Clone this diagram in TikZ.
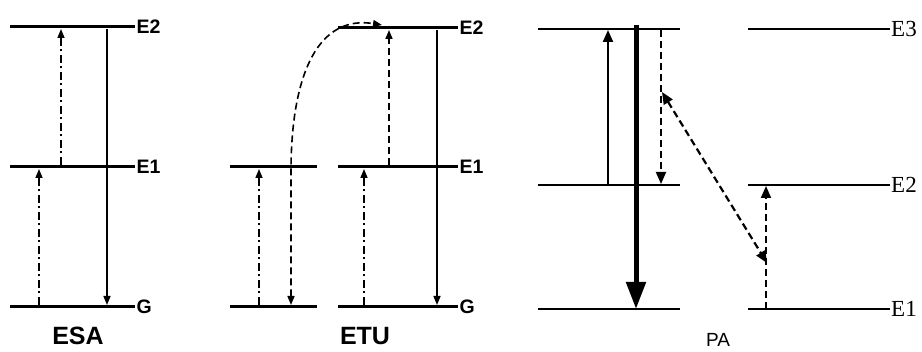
\documentclass[tikz,border=0pt]{standalone}
\usepackage{fontspec}
\newfontfamily\arialf{Liberation Sans}
\newfontfamily\tnrf{Liberation Serif}
\usetikzlibrary{arrows.meta}
\tikzset{
  lvlthick/.style={line width=3pt},
  lvlthin/.style={line width=1.6pt},
  dashdot/.style={line width=1.5pt, dash pattern=on 8pt off 3.5pt on 2pt off 3.5pt},
  dsh/.style={line width=1.8pt, dash pattern=on 7pt off 4pt},
  tipS/.style={-{Triangle[length=9pt,width=7pt]}},
  tipM/.style={-{Triangle[length=12pt,width=10pt]}},
  lblbold/.style={font=\arialf\bfseries\fontsize{19.5}{19.5}\selectfont, anchor=west, inner sep=1.5pt},
  lblserif/.style={font=\tnrf\fontsize{23}{23}\selectfont, anchor=west, inner sep=1pt},
  ttlbold/.style={font=\arialf\bfseries\fontsize{25}{25}\selectfont},
}
\begin{document}
\begin{tikzpicture}[x=1pt,y=-1pt]
\useasboundingbox (0,0) rectangle (922,352);
% ---------------- ESA ----------------
\coordinate (aE2l) at (10,27);  \coordinate (aE2r) at (135,27);
\coordinate (aE1l) at (10,167); \coordinate (aE1r) at (135,167);
\coordinate (aGl) at (10,307);  \coordinate (aGr) at (135,307);
\draw[lvlthick] (aE2l) -- (aE2r);
\draw[lvlthick] (aE1l) -- (aE1r);
\draw[lvlthick] (aGl) -- (aGr);
\node[lblbold] (aLE2) at (aE2r) {E2};
\node[lblbold] (aLE1) at (aE1r) {E1};
\node[lblbold] (aLG) at (aGr) {G};
\node[ttlbold] (esa) at (78,336) {ESA};
\coordinate (a1s) at (39,305); \coordinate (a1e) at (39,169);
\coordinate (a2s) at (61,165); \coordinate (a2e) at (61,29);
\coordinate (a3s) at (107,29); \coordinate (a3e) at (107,305);
\draw[dashdot,tipS] (a1s) -- (a1e);
\draw[dashdot,tipS] (a2s) -- (a2e);
\draw[line width=1.5pt,tipS] (a3s) -- (a3e);
% ---------------- ETU ----------------
\coordinate (bE1l) at (230,167); \coordinate (bE1r) at (317,167);
\coordinate (bGl) at (230,307);  \coordinate (bGr) at (317,307);
\coordinate (cE2l) at (338,28);  \coordinate (cE2r) at (458,28);
\coordinate (cE1l) at (338,167); \coordinate (cE1r) at (458,167);
\coordinate (cGl) at (338,307);  \coordinate (cGr) at (458,307);
\draw[lvlthick] (bE1l) -- (bE1r);
\draw[lvlthick] (bGl) -- (bGr);
\draw[lvlthick] (cE2l) -- (cE2r);
\draw[lvlthick] (cE1l) -- (cE1r);
\draw[lvlthick] (cGl) -- (cGr);
\node[lblbold] (cLE2) at (cE2r) {E2};
\node[lblbold] (cLE1) at (cE1r) {E1};
\node[lblbold] (cLG) at (cGr) {G};
\node[ttlbold] (etu) at (365,336) {ETU};
\coordinate (b1s) at (259,305); \coordinate (b1e) at (259,169);
\coordinate (c1s) at (364,305); \coordinate (c1e) at (364,169);
\coordinate (c2s) at (389,165); \coordinate (c2e) at (389,30);
\coordinate (c3s) at (437,30);  \coordinate (c3e) at (437,305);
\draw[dashdot,tipS] (b1s) -- (b1e);
\draw[dashdot,tipS] (c1s) -- (c1e);
\draw[dsh,line width=1.6pt,tipS] (c2s) -- (c2e);
\draw[line width=1.5pt,tipS] (c3s) -- (c3e);
\coordinate (dG) at (291,305); \coordinate (dM) at (291,167); \coordinate (dT) at (382,25);
\draw[dsh,line width=1.6pt,{Triangle[length=9pt,width=7pt]}-{Triangle[length=9pt,width=7pt]}]
  (dG) -- (dM) .. controls (292,70) and (320,15) .. (dT);
% ---------------- PA ----------------
\foreach \n/\y in {E3/29,E2/185,E1/309}{
  \coordinate (pL\n l) at (538,\y); \coordinate (pL\n r) at (680,\y);
  \coordinate (pR\n l) at (748,\y); \coordinate (pR\n r) at (890,\y);
  \draw[lvlthin] (pL\n l) -- (pL\n r);
  \draw[lvlthin] (pR\n l) -- (pR\n r);
  \node[lblserif] (pLbl\n) at (pR\n r) {\n};
}
\node[font=\arialf\fontsize{19}{19}\selectfont] (pa) at (718,340) {PA};
\coordinate (p1s) at (608,185); \coordinate (p1e) at (608,30);
\coordinate (p2s) at (636,25);  \coordinate (p2e) at (636,309);
\coordinate (p3s) at (661,30);  \coordinate (p3e) at (661,184);
\coordinate (p4s) at (662,92);  \coordinate (p4e) at (767,263);
\coordinate (p5s) at (766,309); \coordinate (p5e) at (766,186);
\draw[line width=2.2pt,tipM] (p1s) -- (p1e);
\draw[line width=5pt,-{Triangle[length=27pt,width=19pt]}] (p2s) -- (p2e);
\draw[dsh,tipM] (p3s) -- (p3e);
\draw[dsh,line width=2.2pt,{Triangle[length=12pt,width=10pt]}-{Triangle[length=12pt,width=10pt]}] (p4s) -- (p4e);
\draw[dsh,tipM] (p5s) -- (p5e);
\end{tikzpicture}
\end{document}
